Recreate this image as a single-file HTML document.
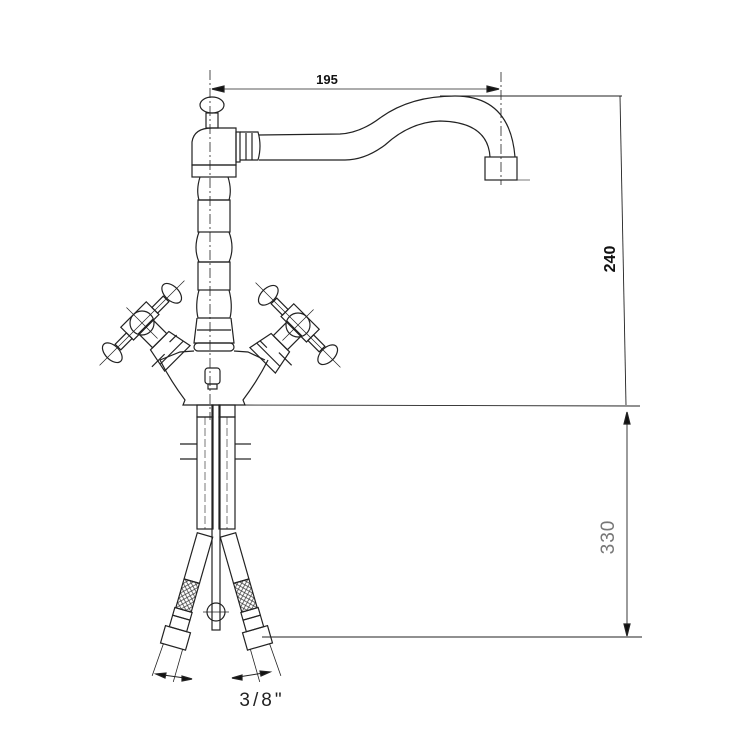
<!DOCTYPE html>
<html><head><meta charset="utf-8"><style>
html,body{margin:0;padding:0;background:#fff;width:740px;height:740px;overflow:hidden}
svg{display:block}
</style></head><body>
<svg width="740" height="740" viewBox="0 0 740 740" xmlns="http://www.w3.org/2000/svg" fill="none" stroke="#222" stroke-width="1.2">
<!-- dimension 195 -->
<line x1="210" y1="70" x2="210" y2="420" stroke-dasharray="10 3 2 3" stroke-width="0.8"/>
<line x1="501" y1="72" x2="501" y2="185" stroke-dasharray="10 3 2 3" stroke-width="0.8"/>
<line x1="212" y1="89" x2="499" y2="89" stroke-width="0.8"/>
<polygon points="212,89 224,86 224,92" fill="#111"/>
<polygon points="499,89 487,86 487,92" fill="#111"/>
<text x="327" y="84" font-family="Liberation Sans, sans-serif" font-size="13" font-weight="bold" fill="#111" stroke="none" text-anchor="middle">195</text>
<!-- right dims -->
<line x1="440" y1="96" x2="622" y2="96" stroke-width="0.9"/>
<line x1="620" y1="96" x2="626" y2="405" stroke-width="0.9"/>
<line x1="240" y1="405" x2="640" y2="406" stroke-width="0.9"/>
<line x1="627" y1="412" x2="627" y2="636" stroke-width="0.9"/>
<polygon points="627,412 624,424 630,424" fill="#111"/>
<polygon points="627,636 624,624 630,624" fill="#111"/>
<line x1="262" y1="637" x2="642" y2="637" stroke-width="0.9"/>
<text transform="translate(615,259) rotate(-90)" font-family="Liberation Sans, sans-serif" font-size="16" font-weight="bold" fill="#111" stroke="none" text-anchor="middle">240</text>
<text transform="translate(614,537) rotate(-90)" font-family="Liberation Sans, sans-serif" font-size="19" fill="#777" stroke="none" text-anchor="middle" letter-spacing="1">330</text>
<!-- knob -->
<ellipse cx="212" cy="105" rx="12" ry="8"/>
<rect x="206" y="113" width="12" height="15"/>
<!-- head -->
<path d="M192 165 L192 142 Q194 128 212 128 L236 128 L236 165 Z"/>
<rect x="192" y="165" width="44" height="12"/>
<rect x="236" y="132" width="4" height="30"/>
<path d="M240 132 H258 Q262 146 258 160 H240"/>
<line x1="246" y1="133" x2="246" y2="160"/><line x1="252" y1="133" x2="252" y2="160"/>
<!-- spout -->
<path d="M259 135 L340 134 Q360 133 380 118 Q410 96 455 96 Q510 96 515 157"/>
<path d="M259 160 L345 160 Q365 160 385 145 Q410 122 440 121 Q488 122 490 157"/>
<rect x="485" y="157" width="32" height="23"/>
<line x1="517" y1="180" x2="530" y2="180" stroke-width="0.6"/>
<!-- column -->
<path d="M200 177 Q196 190 199 200 L229 200 Q232 190 228 177"/>
<rect x="198" y="200" width="32" height="32"/>
<path d="M199 232 Q193 248 199 262 L229 262 Q235 248 229 232"/>
<rect x="198" y="262" width="32" height="28"/>
<path d="M199 290 Q195 305 198 318 L230 318 Q233 305 229 290"/>
<path d="M197 318 L194 343 H234 L231 318"/>
<line x1="197" y1="330" x2="231" y2="330"/>
<rect x="194" y="343" width="40" height="8" rx="4"/>
<!-- base -->
<path d="M160 360 L180 352 L194 351 M234 351 L248 352 L265 360 M160 360 Q170 380 185 400 L183 405 L245 405 L243 400 Q258 380 268 360"/>
<rect x="205" y="368" width="15" height="16" rx="3"/>
<rect x="208" y="384" width="9" height="5"/>
<!-- left handle -->
<g transform="translate(142,323) rotate(45)">
<rect x="5" y="-10" width="20" height="20"/>
<path d="M25 -13 L50 -18 L50 18 L25 13 Z"/>
<line x1="42" y1="-16" x2="42" y2="16"/>
<line x1="33" y1="-16" x2="33" y2="-6"/><line x1="38" y1="6" x2="38" y2="24"/>
<rect x="-12" y="-18" width="18" height="36"/>
<circle cx="0" cy="0" r="12"/>
<line x1="-22" y1="0" x2="22" y2="0" stroke-width="0.7"/>
<line x1="0" y1="-60" x2="0" y2="60" stroke-width="0.7"/>
<rect x="-4" y="-34" width="8" height="16"/>
<rect x="-4" y="18" width="8" height="16"/>
<ellipse cx="0" cy="-42" rx="12" ry="7"/>
<ellipse cx="0" cy="42" rx="12" ry="7"/>
</g>
<!-- right handle -->
<g transform="translate(298,325) rotate(135)">
<rect x="5" y="-10" width="20" height="20"/>
<path d="M25 -13 L50 -18 L50 18 L25 13 Z"/>
<line x1="42" y1="-16" x2="42" y2="16"/>
<line x1="33" y1="-24" x2="33" y2="-6"/><line x1="38" y1="6" x2="38" y2="16"/>
<rect x="-12" y="-18" width="18" height="36"/>
<circle cx="0" cy="0" r="12"/>
<line x1="-22" y1="0" x2="22" y2="0" stroke-width="0.7"/>
<line x1="0" y1="-60" x2="0" y2="60" stroke-width="0.7"/>
<rect x="-4" y="-34" width="8" height="16"/>
<rect x="-4" y="18" width="8" height="16"/>
<ellipse cx="0" cy="-42" rx="12" ry="7"/>
<ellipse cx="0" cy="42" rx="12" ry="7"/>
</g>
<!-- pipes -->
<rect x="197" y="405" width="16" height="12"/>
<rect x="219" y="405" width="16" height="12"/>
<rect x="197" y="417" width="16" height="112"/>
<rect x="219" y="417" width="16" height="112"/>
<line x1="205" y1="417" x2="205" y2="529" stroke-dasharray="8 3" stroke-width="0.6"/>
<line x1="227" y1="417" x2="227" y2="529" stroke-dasharray="8 3" stroke-width="0.6"/>
<rect x="212" y="405" width="8" height="225"/>
<line x1="180" y1="444" x2="197" y2="444"/><line x1="180" y1="459" x2="197" y2="459"/>
<line x1="235" y1="444" x2="251" y2="444"/><line x1="235" y1="459" x2="251" y2="459"/>
<circle cx="216" cy="612" r="9"/>
<line x1="203" y1="612" x2="229" y2="612" stroke-width="0.7"/>
<!-- left hose -->
<g transform="translate(205,535) rotate(16)">
<rect x="-8" y="0" width="16" height="48"/>
<rect x="-8" y="48" width="16" height="30" fill="url(#mesh)"/>
<rect x="-9" y="78" width="18" height="8"/><rect x="-9" y="86" width="18" height="12"/>
<rect x="-13" y="98" width="26" height="18"/>
<line x1="-10" y1="116" x2="-12" y2="150" stroke-width="0.8"/><line x1="10" y1="116" x2="10" y2="150" stroke-width="0.8"/>
</g>
<!-- right hose -->
<g transform="translate(228,535) rotate(-16)">
<rect x="-8" y="0" width="16" height="48"/>
<rect x="-8" y="48" width="16" height="30" fill="url(#mesh)"/>
<rect x="-9" y="78" width="18" height="8"/><rect x="-9" y="86" width="18" height="12"/>
<rect x="-13" y="98" width="26" height="18"/>
<line x1="-10" y1="116" x2="-10" y2="150" stroke-width="0.8"/><line x1="10" y1="116" x2="12" y2="150" stroke-width="0.8"/>
</g>
<defs>
<pattern id="mesh" width="5" height="5" patternUnits="userSpaceOnUse">
<path d="M0 0 L5 5 M5 0 L0 5" stroke="#333" stroke-width="0.7"/>
</pattern>
</defs>
<!-- 3/8 dims -->
<line x1="156" y1="674" x2="192" y2="679" stroke-width="1"/>
<polygon points="156,674 166,673 165,678" fill="#111"/>
<polygon points="192,679 182,676 182,681" fill="#111"/>
<line x1="232" y1="678" x2="270" y2="672" stroke-width="1"/>
<polygon points="232,678 242,675 242,680" fill="#111"/>
<polygon points="270,672 260,671 261,676" fill="#111"/>
<text x="262" y="706" font-family="Liberation Sans, sans-serif" font-size="19" fill="#222" stroke="none" text-anchor="middle" letter-spacing="3">3/8"</text>
</svg>
</body></html>
